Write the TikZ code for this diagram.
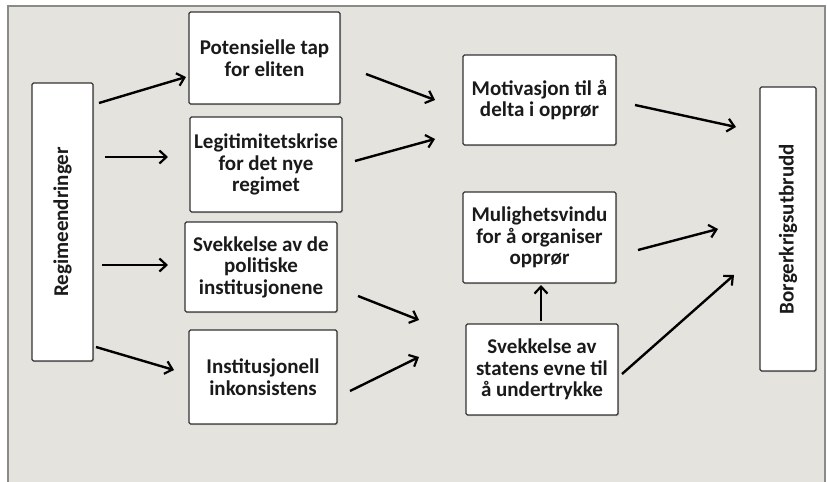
\documentclass[tikz,border=0pt]{standalone}
\usepackage{fontspec}
\setmainfont{Carlito}
\usetikzlibrary{arrows.meta,shadows}
\definecolor{bgc}{HTML}{E5E3DE}
\definecolor{framec}{HTML}{8A8A88}
\definecolor{boxline}{HTML}{333333}
\definecolor{txt}{HTML}{1A1A1A}
\tikzset{
  box/.style={draw=boxline, line width=1.3pt, fill=white, rounded corners=1.5pt, align=center,
    font=\fontsize{21}{21.5}\selectfont\bfseries, text=txt, inner sep=2pt,
    drop shadow={shadow xshift=1.2pt, shadow yshift=-1.2pt, opacity=0.35}},
  vlabel/.style={rotate=90, font=\fontsize{21}{21.5}\selectfont\bfseries, text=txt},
  arr/.style={line width=2.4pt, -{Straight Barb[length=7pt,width=13pt,line width=2.2pt]}}
}
\begin{document}
\begin{tikzpicture}[x=1pt,y=-1pt]
\useasboundingbox (0,0) rectangle (828,482);
\begin{scope}
\clip (0,0) rectangle (828,482);
\draw[draw=framec, line width=1.5pt, fill=bgc] (8,6) rectangle (825,500);
\end{scope}
\node[box, minimum width=61pt, minimum height=278pt] (reg) at (62.5,222) {};
\node[vlabel] (regt) at (reg.center) {Regimeendringer};
\node[box, minimum width=151pt, minimum height=92pt] (pot) at (264.5,58) {Potensielle tap\\for eliten};
\node[box, minimum width=152pt, minimum height=95pt] (leg) at (266,164.5) {Legitimitetskrise\\for det nye\\regimet};
\node[box, minimum width=152pt, minimum height=90pt] (svd) at (261,267) {Svekkelse av de\\politiske\\institusjonene};
\node[box, minimum width=148pt, minimum height=94pt] (ins) at (263,377) {Institusjonell\\inkonsistens};
\node[box, minimum width=153pt, minimum height=90pt] (mot) at (539.5,100) {Motivasjon til å\\delta i opprør};
\node[box, minimum width=153pt, minimum height=91pt] (mul) at (539.5,237.5) {Mulighetsvindu\\for å organiser\\opprør};
\node[box, minimum width=152pt, minimum height=91pt] (sta) at (542,369.5) {Svekkelse av\\statens evne til\\å undertrykke};
\node[box, minimum width=56pt, minimum height=284pt] (bor) at (788,229) {};
\node[vlabel] (bort) at (bor.center) {Borgerkrigsutbrudd};
% arrow end points
\coordinate (a1s) at (99,103);  \coordinate (a1e) at (186,77);
\coordinate (a2s) at (105,157); \coordinate (a2e) at (168,157);
\coordinate (a3s) at (102,265); \coordinate (a3e) at (168,265);
\coordinate (a4s) at (96,347);  \coordinate (a4e) at (174,370);
\coordinate (a5s) at (366,74);  \coordinate (a5e) at (435,100);
\coordinate (a6s) at (355,161); \coordinate (a6e) at (435,139);
\coordinate (a7s) at (358,296); \coordinate (a7e) at (419,320);
\coordinate (a8s) at (350,391); \coordinate (a8e) at (419,357);
\coordinate (a9s) at (635,105); \coordinate (a9e) at (736,127);
\coordinate (a10s) at (638,250); \coordinate (a10e) at (718,229);
\coordinate (a11s) at (541,321); \coordinate (a11e) at (541,285);
\coordinate (a12s) at (622,374); \coordinate (a12e) at (734,275);
\draw[arr] (a1s) -- (a1e);
\draw[arr] (a2s) -- (a2e);
\draw[arr] (a3s) -- (a3e);
\draw[arr] (a4s) -- (a4e);
\draw[arr] (a5s) -- (a5e);
\draw[arr] (a6s) -- (a6e);
\draw[arr] (a7s) -- (a7e);
\draw[arr] (a8s) -- (a8e);
\draw[arr] (a9s) -- (a9e);
\draw[arr] (a10s) -- (a10e);
\draw[arr] (a11s) -- (a11e);
\draw[arr] (a12s) -- (a12e);
\end{tikzpicture}
\end{document}
